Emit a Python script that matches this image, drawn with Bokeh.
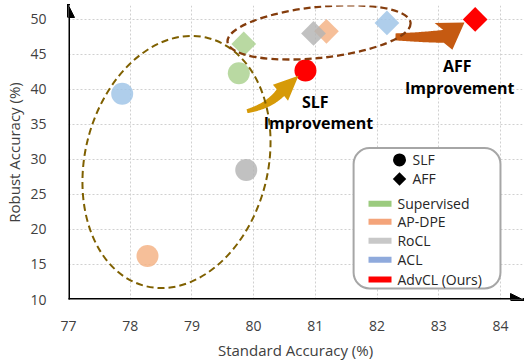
import numpy as np
from bokeh.plotting import figure
from bokeh.models import FixedTicker, Arrow, NormalHead, BoxAnnotation
from bokeh.core.properties import value
from bokeh.embed import file_html
from bokeh.resources import INLINE

# ---------------- data ----------------
methods = ["Supervised", "AP-DPE", "RoCL", "ACL", "AdvCL (Ours)"]
slf_std = [79.76, 78.28, 79.88, 77.87, 80.84]
slf_rob = [42.3, 16.2, 28.5, 39.4, 42.7]
aff_std = [79.84, 81.18, 80.97, 82.16, 83.59]
aff_rob = [46.5, 48.3, 48.0, 49.5, 50.0]
x_ticks = [77, 78, 79, 80, 81, 82, 83, 84]
y_ticks = [10, 15, 20, 25, 30, 35, 40, 45, 50]

# ---------------- styles ----------------
point_colors = ["#A9D18E", "#F4B183", "#B3B3B3", "#9DC3E6", "#FF0000"]
point_alpha = [0.82, 0.82, 0.82, 0.82, 1.0]
swatch_colors = ["#9BCB7E", "#F4A47A", "#C8C8C8", "#8FAADC", "#FF0000"]
FONT = "Open Sans"

W, H = 524, 362
BL, BR, BT, BB = 68, 2, 5, 62
X0, X1 = 77, 84.357
Y0, Y1 = 10, 51.99
SX = (W - BL - BR) / (X1 - X0)
SY = (H - BT - BB) / (Y1 - Y0)

p = figure(width=W, height=H, x_range=(X0, X1), y_range=(Y0, Y1),
           output_backend="svg", toolbar_location=None,
           min_border_left=BL, min_border_right=BR,
           min_border_top=BT, min_border_bottom=BB)
p.outline_line_color = None
p.background_fill_color = "white"

p.xaxis.ticker = FixedTicker(ticks=x_ticks)
p.yaxis.ticker = FixedTicker(ticks=y_ticks)
for ax in (p.xaxis, p.yaxis):
    ax.axis_line_color = None
    ax.major_tick_line_color = None
    ax.minor_tick_line_color = None
    ax.major_label_text_font = FONT
    ax.major_label_text_font_size = "14px"
    ax.major_label_text_color = "#404040"
    ax.axis_label_text_font = FONT
    ax.axis_label_text_font_size = "15px"
    ax.axis_label_text_font_style = "normal"
    ax.axis_label_text_color = "#404040"
p.xaxis.axis_label = "Standard Accuracy (%)"
p.yaxis.axis_label = "Robust Accuracy (%)"
p.xaxis.major_label_standoff = 15
p.xaxis.axis_label_standoff = 6
p.yaxis.major_label_standoff = 16
p.yaxis.axis_label_standoff = 3

p.grid.grid_line_color = "#D0D0D0"
p.grid.grid_line_dash = "2 2"
p.grid.grid_line_width = 1

# ---------------- axis arrows ----------------
p.add_layout(Arrow(end=NormalHead(size=12, fill_color="black", line_color="black"),
                   x_start=X0, y_start=Y0, x_end=X0, y_end=Y1,
                   line_width=3, line_color="black", line_cap="square"))
p.add_layout(Arrow(end=NormalHead(size=12, fill_color="black", line_color="black"),
                   x_start=X0, y_start=Y0, x_end=X1, y_end=Y0,
                   line_width=3, line_color="black", line_cap="square"))

# ---------------- points ----------------
p.scatter(slf_std, slf_rob, marker="circle", size=22, fill_color=point_colors,
          fill_alpha=point_alpha, line_color=None)
p.scatter(aff_std, aff_rob, marker="square", size=17.5, angle=np.pi / 4,
          fill_color=point_colors, fill_alpha=point_alpha, line_color=None)

# ---------------- curved arrows ----------------
def curved_arrow(p0, c, p1, tip, w0, w1, hw, n=40):
    def to_px(pt):
        return np.array([(pt[0] - X0) * SX, (pt[1] - Y0) * SY])
    P0, C, P1, T = map(to_px, (p0, c, p1, tip))
    t = np.linspace(0, 1, n)[:, None]
    B = (1 - t) ** 2 * P0 + 2 * (1 - t) * t * C + t ** 2 * P1
    d = 2 * (1 - t) * (C - P0) + 2 * t * (P1 - C)
    d = d / np.linalg.norm(d, axis=1)[:, None]
    nrm = np.column_stack([-d[:, 1], d[:, 0]])
    w = (w0 + (w1 - w0) * t) / 2
    left = B + nrm * w
    right = B - nrm * w
    u = (T - P1) / np.linalg.norm(T - P1)
    v = np.array([-u[1], u[0]])
    pts = np.vstack([left, [P1 + v * hw], [T], [P1 - v * hw], right[::-1]])
    xs = pts[:, 0] / SX + X0
    ys = pts[:, 1] / SY + Y0
    return xs, ys

slf_arrow = dict(p0=(79.893, 36.90), c=(80.241, 37.62), p1=(80.435, 39.54),
                 tip=(80.727, 41.96), w0=4, w1=10, hw=11)
aff_arrow = dict(p0=(82.299, 47.51), c=(82.704, 47.44), p1=(83.077, 47.58),
                 tip=(83.417, 49.57), w0=7, w1=13, hw=16)
xs, ys = curved_arrow(**slf_arrow)
p.patch(xs, ys, fill_color="#D69A08", line_color=None)
xs, ys = curved_arrow(**aff_arrow)
p.patch(xs, ys, fill_color="#C55A11", line_color=None)

# ---------------- annotation texts ----------------
p.text(x=[81.0, 81.05, 83.30, 83.34], y=[38.19, 35.2, 43.31, 40.18],
       text=["SLF", "Improvement", "AFF", "Improvement"],
       text_font=value(FONT), text_font_size="16px", text_font_style="bold",
       text_color="black", text_align="center", text_baseline="middle")

# ---------------- dashed ellipses ----------------
p.ellipse(x=[78.75], y=[29.64], width=[183], height=[256], angle=[-0.246],
          width_units="screen", height_units="screen", fill_color=None,
          line_color="#7F6000", line_width=2, line_dash="7 4")
p.ellipse(x=[81.06], y=[48.15], width=[184], height=[51], angle=[0.105],
          width_units="screen", height_units="screen", fill_color=None,
          line_color="#843C0C", line_width=2.3, line_dash="7 4")

# ---------------- legend ----------------
p.add_layout(BoxAnnotation(left=81.62, right=84.0, top=31.64, bottom=11.57,
                           fill_color="white", fill_alpha=1.0,
                           line_color="#A6A6A6", line_width=2, line_alpha=1.0,
                           border_radius=16, level="underlay"))
p.scatter([82.364], [29.93], marker="circle", size=13, fill_color="black", line_color=None)
p.scatter([82.364], [27.22], marker="square", size=9.5, angle=np.pi / 4,
          fill_color="black", line_color=None)
p.text(x=[82.574, 82.574], y=[29.93, 27.22], text=["SLF", "AFF"],
       text_font=value(FONT), text_font_size="14px", text_color="#262626",
       text_baseline="middle", text_align="left")
sw_y = [23.67, 21.10, 18.40, 15.69, 12.85]
p.rect(x=[82.048] * 5, y=sw_y, width=23, height=6, width_units="screen",
       height_units="screen", fill_color=swatch_colors, line_color=None)
p.text(x=[82.331] * 5, y=sw_y, text=methods,
       text_font=value(FONT), text_font_size="14px", text_color="#262626",
       text_baseline="middle", text_align="left")

open("out.html", "w").write(file_html(p, INLINE))
